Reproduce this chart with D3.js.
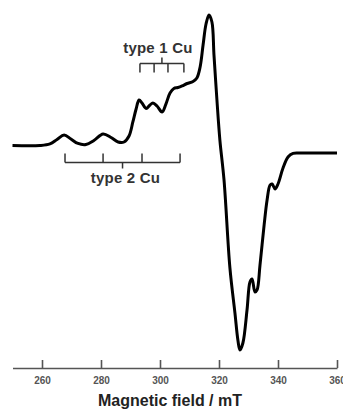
<!DOCTYPE html>
<html>
<head>
<meta charset="utf-8">
<script src="https://cdn.jsdelivr.net/npm/d3@7"></script>
<style>
    body { margin: 0; background: #fff; }
    svg { display: block; font-family: "Liberation Sans", Arial, sans-serif; }
</style>
</head>
<body>
<svg id="chart" width="343" height="409"></svg>
<script>
// EPR spectrum (field in mT, intensity in arbitrary units)
var field = [250.0, 259.3, 262.7, 265.1, 267.5, 269.8, 272.2, 274.9, 277.6, 280.7,
    283.4, 285.8, 287.8, 289.5, 290.8, 291.9, 292.9, 293.9, 295.3, 296.6,
    297.6, 299.0, 300.7, 302.0, 303.4, 304.7, 306.1, 307.5, 309.2, 311.2,
    312.5, 313.6, 314.6, 315.6, 316.6, 317.6, 318.3, 319.3, 320.3, 321.7,
    323.7, 325.4, 326.4, 327.1, 328.1, 329.5, 330.5, 331.2, 332.2, 332.9,
    333.9, 335.3, 336.3, 337.3, 338.0, 339.0, 340.0, 341.7, 343.4, 345.1,
    347.5, 360.0];
var intensity = [-0.4, -0.4, 0.8, 4.2, 7.7, 4.6, 1.2, 0.4, 3.5, 8.5,
    5.8, 2.3, 2.3, 6.9, 17.7, 27.7, 34.6, 32.3, 28.1, 30.8,
    32.3, 30.0, 25.4, 31.5, 40.0, 43.5, 44.2, 45.4, 47.3, 48.8,
    51.5, 60.0, 76.9, 93.1, 100.0, 94.6, 69.2, 34.6, 3.8, -26.9,
    -94.6, -129.2, -150.0, -157.7, -152.3, -126.9, -105.4, -103.1, -113.1, -111.5,
    -92.3, -61.5, -42.3, -30.8, -30.0, -33.8, -30.0, -17.7, -9.2, -6.5,
    -6.2, -6.2];

var xTicks = [260, 280, 300, 320, 340, 360];

// hyperfine line positions (mT)
var type1Lines = [293.2, 298.0, 302.7, 308.1];
var type2Lines = [267.8, 280.7, 293.9, 306.8];

var svg = d3.select("#chart");

var x = d3.scaleLinear().domain([250, 360]).range([12.5, 337]);
var y = d3.scaleLinear().domain([-165, 110]).range([359.5, 2]);

var data = field.map(function (f, i) { return { f: f, v: intensity[i] }; });

// ----- axis
var axisY = 368;
var xAxis = svg.append("g")
    .attr("transform", "translate(0," + axisY + ")")
    .call(d3.axisTop(x).tickValues(xTicks).tickSize(8).tickSizeOuter(0).tickFormat(d3.format("d")));
xAxis.select(".domain").attr("stroke", "#555").attr("stroke-width", 1.6);
xAxis.selectAll(".tick line").attr("stroke", "#555").attr("stroke-width", 1.6);
xAxis.selectAll(".tick text")
    .attr("y", 16)
    .attr("dy", 0)
    .attr("fill", "#555")
    .style("font-size", "10px")
    .style("font-weight", "bold");

svg.append("text")
    .attr("x", 170)
    .attr("y", 406)
    .attr("text-anchor", "middle")
    .attr("fill", "#222")
    .style("font-size", "16px")
    .style("font-weight", "bold")
    .text("Magnetic field / mT");

// ----- spectrum
var line = d3.line()
    .curve(d3.curveCatmullRom.alpha(0.5))
    .x(function (d) { return x(d.f); })
    .y(function (d) { return y(d.v); });

svg.append("path")
    .datum(data)
    .attr("fill", "none")
    .attr("stroke", "#000")
    .attr("stroke-width", 3)
    .attr("stroke-linejoin", "round")
    .attr("d", line);

// ----- stick diagrams
function drawBracket(lines, barY, dir, label, labelY, shift) {
    var g = svg.append("g").attr("stroke", "#333").attr("stroke-width", 1.5).attr("fill", "none");
    var x0 = x(d3.min(lines)), x1 = x(d3.max(lines));
    g.append("line").attr("x1", x0).attr("x2", x1).attr("y1", barY).attr("y2", barY);
    g.selectAll(".stick")
        .data(lines)
        .enter().append("line")
        .attr("x1", function (d) { return x(d); })
        .attr("x2", function (d) { return x(d); })
        .attr("y1", barY)
        .attr("y2", barY + dir * 9);
    var mid = (d3.min(lines) + d3.max(lines)) / 2;
    g.append("line")
        .attr("x1", x(mid)).attr("x2", x(mid))
        .attr("y1", barY).attr("y2", barY - dir * 6);
    svg.append("text")
        .attr("x", x(mid) + shift)
        .attr("y", labelY)
        .attr("text-anchor", "middle")
        .attr("fill", "#333")
        .style("font-size", "15px")
        .style("font-weight", "bold")
        .style("letter-spacing", "0.2px")
        .text(label);
}

drawBracket(type1Lines, 63.5, 1, "type 1 Cu", 53, -4);
drawBracket(type2Lines, 162.5, -1, "type 2 Cu", 183, 3);
</script>
</body>
</html>
